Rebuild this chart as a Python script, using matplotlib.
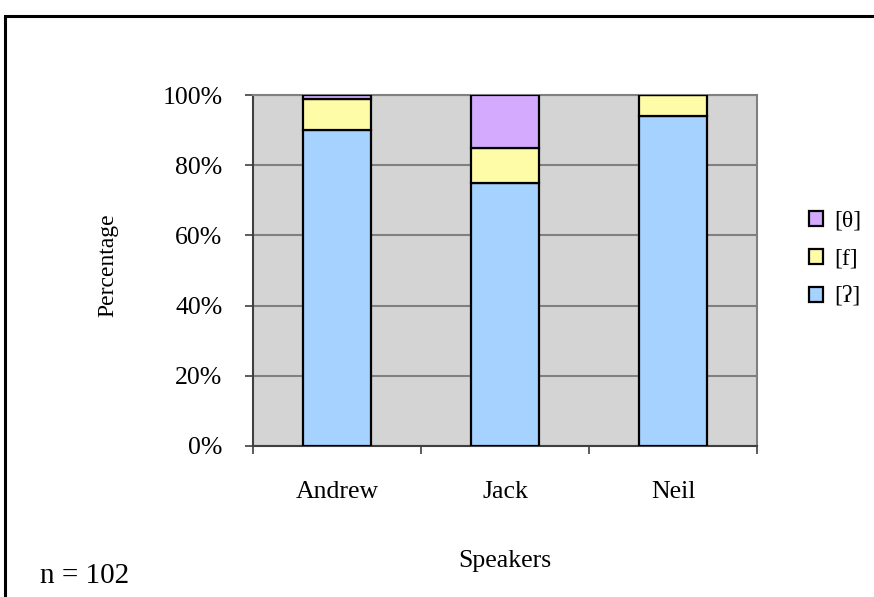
import matplotlib
matplotlib.use("Agg")
import matplotlib.pyplot as plt
from matplotlib.patches import Rectangle, Patch
from matplotlib.ticker import FixedLocator, PercentFormatter

plt.rcParams["font.family"] = ["Liberation Serif", "DejaVu Serif"]

speakers = ["Andrew", "Jack", "Neil"]
glottal = [90, 75, 94]     # [ʔ]
labiodental = [9, 10, 6]   # [f]
dental = [1, 15, 0]        # [θ]

BLUE = "#a6d2ff"
YELLOW = "#fffca8"
PURPLE = "#d4aaff"
GRID = "#808080"
FS = 18.5

fig = plt.figure(figsize=(8.74, 5.97), dpi=100)
ax = fig.add_axes([253 / 874, 1 - 446 / 597, 504 / 874, 351 / 597])
ax.set_facecolor("#d4d4d4")

x = list(range(len(speakers)))
w = 0.4
kw = dict(width=w, edgecolor="black", linewidth=1.6, zorder=3)
ax.bar(x, glottal, color=BLUE, label="[ʔ]", **kw)
bottom2 = glottal
ax.bar(x, labiodental, bottom=bottom2, color=YELLOW, label="[f]", **kw)
bottom3 = [a + b for a, b in zip(glottal, labiodental)]
ax.bar(x, dental, bottom=bottom3, color=PURPLE, label="[θ]", **kw)

ax.set_xlim(-0.5, len(speakers) - 0.5)
ax.set_ylim(0, 100)
ax.set_yticks(range(0, 101, 20))
ax.yaxis.set_major_formatter(PercentFormatter(decimals=0))
ax.yaxis.grid(True, color=GRID, linewidth=1.5, zorder=0)
ax.set_axisbelow(True)

ax.set_xticks(x)
ax.set_xticklabels(speakers)
ax.xaxis.set_minor_locator(FixedLocator([i - 0.5 for i in range(len(speakers) + 1)]))
ax.tick_params(axis="x", which="major", length=0, pad=25, labelsize=FS)
ax.tick_params(axis="x", which="minor", length=6, width=1.2, color="#404040", direction="out")
ax.tick_params(axis="y", length=6, width=1.2, color="#404040", pad=16, labelsize=FS)

for side in ("top", "right"):
    ax.spines[side].set_color(GRID)
    ax.spines[side].set_linewidth(1.5)
for side in ("left", "bottom"):
    ax.spines[side].set_color("#404040")
    ax.spines[side].set_linewidth(1.5)

ax.set_xlabel("Speakers", fontsize=FS)
ax.xaxis.set_label_coords(0.5, -0.297)
ax.set_ylabel("Percentage", fontsize=17)
ax.yaxis.set_label_coords(-0.268, 0.515)

handles = [Patch(facecolor=PURPLE, edgecolor="black", linewidth=1.6),
           Patch(facecolor=YELLOW, edgecolor="black", linewidth=1.6),
           Patch(facecolor=BLUE, edgecolor="black", linewidth=1.6)]
fig.legend(handles, ["[θ]", "[f]", "[ʔ]"], loc="upper left",
           bbox_to_anchor=(797 / 874, 1 - 199 / 597), frameon=False,
           borderpad=0, fontsize=17, handlelength=0.62, handleheight=0.62,
           handletextpad=0.45, labelspacing=0.72)

fig.text(40 / 874, 1 - 583 / 597, "n = 102", fontsize=21, ha="left", va="baseline")

# outer border of the chart area
fig.patches.append(Rectangle((5 / 874, -0.1), 1.2, 0.1 + (1 - 16 / 597),
                             transform=fig.transFigure, fill=False,
                             edgecolor="black", linewidth=2.2))

fig.savefig("out.png", dpi=100)
